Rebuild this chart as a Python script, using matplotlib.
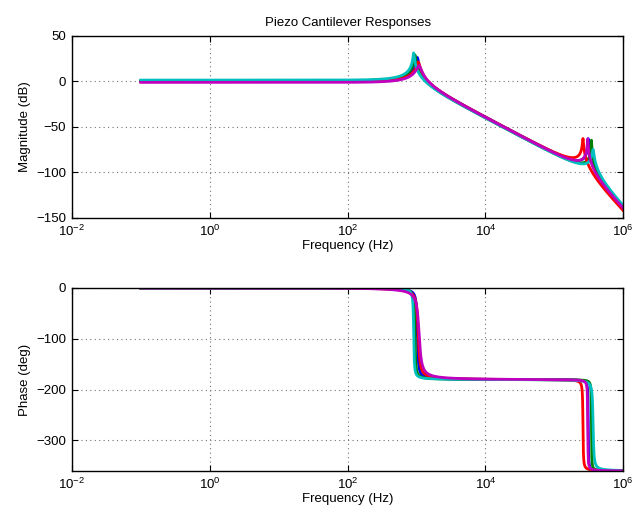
import numpy as np
import matplotlib
matplotlib.use("Agg")
import matplotlib.pyplot as plt
from matplotlib.ticker import FixedLocator, NullLocator, FixedFormatter

plt.rcParams['font.family'] = ['Liberation Sans', 'DejaVu Sans']
plt.rcParams['mathtext.fontset'] = 'custom'
plt.rcParams['mathtext.rm'] = 'Liberation Sans'
plt.rcParams['mathtext.it'] = 'Liberation Sans'

# ---- data: modal parameters of each cantilever response ----
curve_colors = ['#0000ff', '#008000', '#ff0000', '#00bfbf', '#bf00bf']
dc_gain_db   = [0.3, 0.8, -0.2, 1.5, -1.0]          # low-frequency gain (dB)
mode1_hz     = [1030, 950, 1060, 910, 1090]          # first resonance (Hz)
mode1_zeta   = [0.025, 0.019, 0.042, 0.016, 0.06]    # first-mode damping
mode2_hz     = [3.1e5, 3.45e5, 2.6e5, 3.65e5, 3.05e5]  # second resonance (Hz)
mode2_zeta   = [0.008, 0.007, 0.011, 0.02, 0.008]    # second-mode damping
freq_range   = [1e-1, 1e6]                           # swept range (Hz)

mag_ticks   = [-150, -100, -50, 0, 50]
phase_ticks = [-300, -200, -100, 0]
freq_ticks  = [1e-2, 1e0, 1e2, 1e4, 1e6]
freq_labels = [r'$10^{-2}$', r'$10^{0}$', r'$10^{2}$', r'$10^{4}$', r'$10^{6}$']

f = np.logspace(np.log10(freq_range[0]), np.log10(freq_range[1]), 6000)

fig = plt.figure(figsize=(6.36, 5.14), dpi=100)
ax1 = fig.add_axes([0.113, 0.576, 0.867, 0.354])
ax2 = fig.add_axes([0.113, 0.0837, 0.867, 0.356])

for c, g, f1, z1, f2, z2 in zip(curve_colors, dc_gain_db, mode1_hz, mode1_zeta, mode2_hz, mode2_zeta):
    h = (10 ** (g / 20)) / ((1 - (f / f1) ** 2 + 2j * z1 * f / f1) * (1 - (f / f2) ** 2 + 2j * z2 * f / f2))
    mag = 20 * np.log10(np.abs(h))
    r1 = f / f1
    r2 = f / f2
    ph = -np.degrees(np.arctan2(2 * z1 * r1, 1 - r1 ** 2)) - np.degrees(np.arctan2(2 * z2 * r2, 1 - r2 ** 2))
    ax1.semilogx(f, mag, color=c, lw=2)
    ax2.semilogx(f, ph, color=c, lw=2)

for ax, yt in ((ax1, mag_ticks), (ax2, phase_ticks)):
    ax.set_xscale('log')
    ax.set_xlim(1e-2, 1e6)
    ax.xaxis.set_major_locator(FixedLocator(freq_ticks))
    ax.xaxis.set_major_formatter(FixedFormatter(freq_labels))
    ax.xaxis.set_minor_locator(NullLocator())
    ax.set_yticks(yt)
    ax.grid(True, which='major', color='0.45', linestyle=(0, (1, 3)), lw=0.8)
    ax.tick_params(direction='in', top=True, right=True, length=4, width=0.8, labelsize=9.5, pad=4)
    for sp in ax.spines.values():
        sp.set_linewidth(1.0)
    ax.set_xlabel('Frequency (Hz)', fontsize=9.5, labelpad=1)

ax1.set_ylim(-150, 50)
ax2.set_ylim(-360, 0)
ax1.set_ylabel('Magnitude (dB)', fontsize=9.5)
ax2.set_ylabel('Phase (deg)', fontsize=9.5)
ax1.set_title('Piezo Cantilever Responses', fontsize=9.5, pad=7)

fig.savefig('out.png', dpi=100)
